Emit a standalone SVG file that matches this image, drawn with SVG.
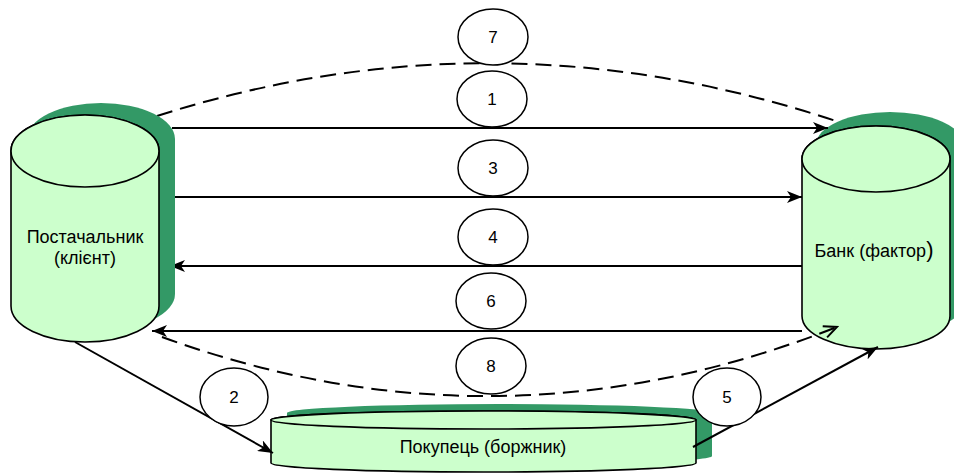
<svg xmlns="http://www.w3.org/2000/svg" width="954" height="474" viewBox="0 0 954 474">
<style>
.sh{fill:#339966;stroke:none}
.cy{fill:#CCFFCC;stroke:#000;stroke-width:1.6}
.ln{fill:none;stroke:#000;stroke-width:2}
.ds{fill:none;stroke:#000;stroke-width:2;stroke-dasharray:16 8}
.lb{fill:#fff;stroke:#000;stroke-width:1.5}
text{font-family:"Liberation Sans",Arial,sans-serif;fill:#000}
.n{font-size:17px;text-anchor:middle}
.t{font-size:18px;text-anchor:middle}
</style>
<defs>
<marker id="ah" markerUnits="userSpaceOnUse" markerWidth="16" markerHeight="12" refX="15" refY="6" orient="auto">
<path d="M0,0 L15,6 L0,12 L4,6 Z" fill="#000"/>
</marker>
<marker id="ao" markerUnits="userSpaceOnUse" markerWidth="16" markerHeight="14" refX="14" refY="7" orient="auto">
<path d="M1,1 L14,7 L1,13" fill="none" stroke="#000" stroke-width="2"/>
</marker>
</defs>
<g id="bank">
<path class="sh" d="M816,145 A74,33 0 0 1 964,145 V302 A74,33 0 0 1 816,302 Z"/>
<path class="cy" d="M802,159 A74,33 0 0 1 950,159 V316 A74,33 0 0 1 802,316 Z"/>
<ellipse class="cy" cx="876" cy="159" rx="74" ry="33"/>
<text class="t" x="874" y="257">Банк (фактор<tspan font-size="22">)</tspan></text>
</g>
<g id="buyer">
<path class="sh" d="M287,413 A212.5,9 0 0 1 712,413 V456 A212.5,9 0 0 1 287,456 Z"/>
<path class="cy" d="M271,420 A212.5,9 0 0 1 696,420 V463 A212.5,9 0 0 1 271,463 Z"/>
<ellipse class="cy" cx="483.5" cy="420" rx="212.5" ry="9"/>
<text class="t" x="483" y="453">Покупець (боржник)</text>
</g>
<g id="connectors">
<path class="ds" d="M157,116 Q495,8 836,121"/>
<line class="ln" x1="172" y1="128" x2="828" y2="128" marker-end="url(#ah)"/>
<line class="ln" x1="175" y1="197" x2="802" y2="197" marker-end="url(#ah)"/>
<line class="ln" x1="802" y1="266" x2="170" y2="266" marker-end="url(#ah)"/>
<line class="ln" x1="802" y1="331" x2="152" y2="331" marker-end="url(#ah)"/>
<path class="ds" d="M162,337 Q500,460 837,327" marker-end="url(#ao)"/>
<line class="ln" x1="75" y1="342" x2="273" y2="453" marker-end="url(#ah)"/>
<line class="ln" x1="693" y1="447" x2="878" y2="347" marker-end="url(#ah)"/>
</g>
<g id="supplier">
<path class="sh" d="M27,139 A74,36 0 0 1 175,139 V294 A74,36 0 0 1 27,294 Z"/>
<path class="cy" d="M11,151 A74,36 0 0 1 159,151 V306 A74,36 0 0 1 11,306 Z"/>
<ellipse class="cy" cx="85" cy="151" rx="74" ry="36"/>
<text class="t" x="85" y="243">Постачальник</text>
<text class="t" x="85" y="264">(клієнт)</text>
</g>
<g id="l7"><ellipse class="lb" cx="493" cy="37" rx="35" ry="28"/><text class="n" x="493" y="43">7</text></g>
<g id="l1"><ellipse class="lb" cx="492" cy="99" rx="35" ry="28"/><text class="n" x="492" y="105">1</text></g>
<g id="l3"><ellipse class="lb" cx="493" cy="168" rx="35" ry="28"/><text class="n" x="493" y="174">3</text></g>
<g id="l4"><ellipse class="lb" cx="493" cy="237" rx="35" ry="28"/><text class="n" x="493" y="243">4</text></g>
<g id="l6"><ellipse class="lb" cx="491" cy="301" rx="35" ry="28"/><text class="n" x="491" y="307">6</text></g>
<g id="l8"><ellipse class="lb" cx="491" cy="366" rx="35" ry="28"/><text class="n" x="491" y="372">8</text></g>
<g id="l2"><ellipse class="lb" cx="234" cy="397" rx="34" ry="29"/><text class="n" x="234" y="403">2</text></g>
<g id="l5"><ellipse class="lb" cx="727" cy="397" rx="34" ry="29"/><text class="n" x="727" y="403">5</text></g>
</svg>
